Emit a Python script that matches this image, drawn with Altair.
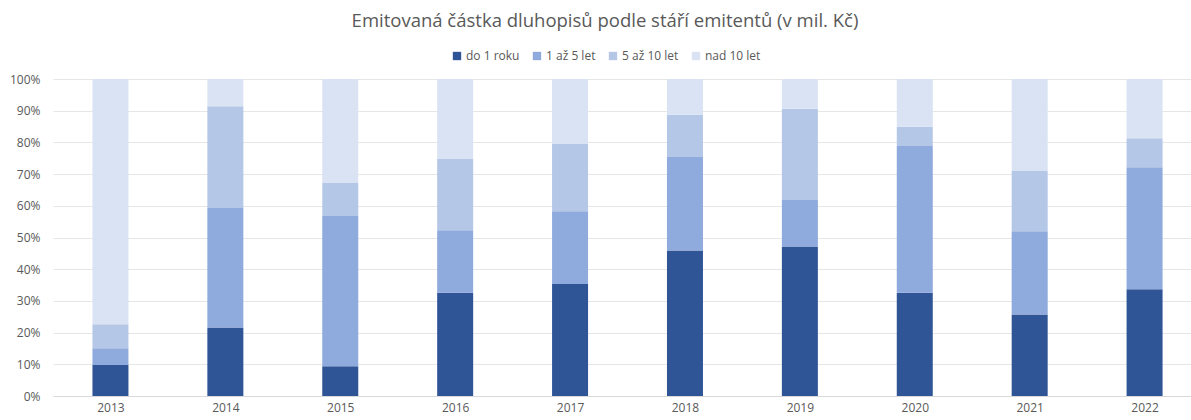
import altair as alt
import pandas as pd

years = [2013, 2014, 2015, 2016, 2017, 2018, 2019, 2020, 2021, 2022]
categories = ["do 1 roku", "1 až 5 let", "5 až 10 let", "nad 10 let"]
colors = ["#2F5597", "#8FAADC", "#B4C7E7", "#DAE3F3"]

do_1_roku = [9.8, 21.6, 9.4, 32.6, 35.3, 45.9, 47.2, 32.6, 25.7, 33.7]
od_1_do_5 = [5.3, 37.7, 47.4, 19.7, 23.0, 29.5, 14.6, 46.3, 26.3, 38.5]
od_5_do_10 = [7.5, 32.1, 10.4, 22.5, 21.2, 13.3, 28.8, 6.0, 19.1, 9.1]
nad_10 = [77.4, 8.6, 32.8, 25.2, 20.5, 11.3, 9.4, 15.1, 28.9, 18.7]

series = [do_1_roku, od_1_do_5, od_5_do_10, nad_10]
rows = []
for ci, (cat, vals) in enumerate(zip(categories, series)):
    for y, v in zip(years, vals):
        rows.append({"rok": y, "kategorie": cat, "hodnota": v, "poradi": ci})
df = pd.DataFrame(rows)

grey = "#595959"
font = "Open Sans"

chart = alt.Chart(df).mark_bar(size=36).encode(
    x=alt.X("rok:Q",
            scale=alt.Scale(domain=[2012.5, 2022.404], nice=False, zero=False, padding=0),
            axis=alt.Axis(values=years, format="d", title=None, grid=False,
                          ticks=False, domainColor="#D9D9D9", labelColor=grey,
                          labelFontSize=12, labelFont=font, labelPadding=6,
                          labelFlush=False)),
    y=alt.Y("hodnota:Q", stack="normalize",
            scale=alt.Scale(domain=[0, 1]),
            axis=alt.Axis(values=[i / 10 for i in range(11)], format="%", title=None,
                          domain=False, ticks=False, gridColor="#E6E6E6",
                          labelColor=grey, labelFontSize=12, labelFont=font,
                          labelPadding=13)),
    color=alt.Color("kategorie:N",
                    scale=alt.Scale(domain=categories, range=colors),
                    legend=alt.Legend(title=None, orient="none", direction="horizontal",
                                      legendX=398, legendY=-29, symbolType="square",
                                      symbolSize=70, symbolStrokeWidth=0,
                                      labelColor=grey, labelFontSize=12, labelFont=font,
                                      columnPadding=11, labelOffset=3)),
    order=alt.Order("poradi:Q", sort="ascending"),
).properties(
    width=1138,
    height=317,
    autosize=alt.AutoSizeParams(type="none"),
    padding={"left": 53, "top": 79, "right": 0, "bottom": 24},
    title=alt.TitleParams("Emitovaná částka dluhopisů podle stáří emitentů (v mil. Kč)",
                          fontSize=18.5, font=font, fontWeight="normal", color=grey,
                          anchor="middle", dx=-17, offset=20),
).configure_view(stroke=None)

chart.save("out.html", embed_options={"renderer": "svg", "actions": False})
